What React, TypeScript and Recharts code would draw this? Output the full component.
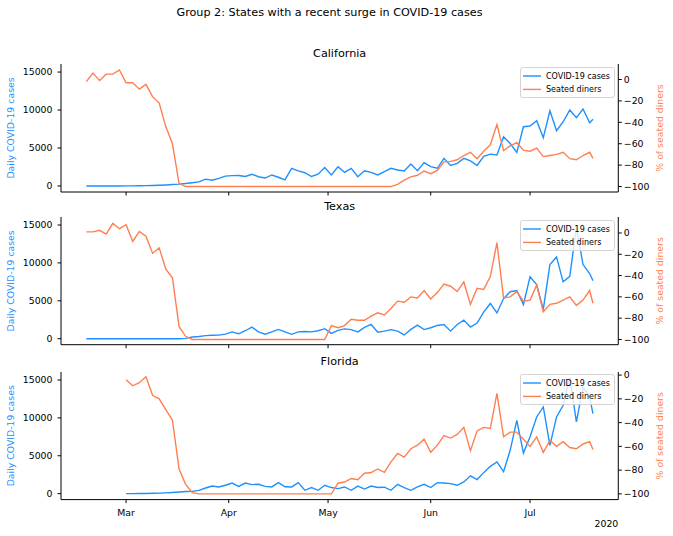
import { LineChart, Line, XAxis, YAxis } from 'recharts';

// day offsets from Mar 1, 2020 (sampled every other day, last point Jul 20)
const days = [
  -12, -10, -8, -6, -4, -2, 0, 2, 4, 6,
  8, 10, 12, 14, 16, 18, 20, 22, 24, 26,
  28, 30, 32, 34, 36, 38, 40, 42, 44, 46,
  48, 50, 52, 54, 56, 58, 60, 62, 64, 66,
  68, 70, 72, 74, 76, 78, 80, 82, 84, 86,
  88, 90, 92, 94, 96, 98, 100, 102, 104, 106,
  108, 110, 112, 114, 116, 118, 120, 122, 124, 126,
  128, 130, 132, 134, 136, 138, 140, 141,
];

const caCases = [
  0, 0, 0, 0, 0, 0, 10, 20, 30, 50,
  70, 100, 140, 190, 240, 330, 430, 540, 900, 760,
  1000, 1300, 1360, 1380, 1250, 1540, 1220, 1050, 1450, 1150,
  800, 2330, 2000, 1750, 1250, 1550, 2420, 1450, 2540, 1800,
  2330, 1220, 2000, 1800, 1450, 1900, 2330, 2100, 1970, 2900,
  2000, 3070, 2540, 2330, 3640, 2700, 2980, 3640, 3300, 2700,
  3900, 4200, 4080, 6490, 5600, 4430, 7800, 7900, 8600, 6360,
  9910, 7280, 8460, 10000, 9000, 10130, 8330, 8780,
];
const caDiners = [
  -2, 6, -1, 5, 5, 9, -3, -3, -9, -4.5,
  -16, -22, -44, -60, -97, -100, -100, -100, -100, -100,
  -100, -100, -100, -100, -100, -100, -100, -100, -100, -100,
  -100, -100, -100, -100, -100, -100, -100, -100, -100, -100,
  -100, -100, -100, -100, -100, -100, -100, -98, -94, -91,
  -89.5, -85.5, -88, -85, -77, -76.5, -75, -71, -68, -74,
  -67, -61, -42, -66.5, -62, -59, -66, -67, -64, -72,
  -71, -70, -68, -74, -75, -71, -68, -73.7,
];

const txCases = [
  0, 0, 0, 0, 0, 0, 0, 0, 0, 0,
  0, 0, 0, 0, 0, 50, 230, 300, 400, 450,
  470, 600, 900, 650, 1050, 1530, 900, 600, 900, 1230,
  900, 580, 900, 950, 900, 1050, 1320, 700, 1100, 1300,
  1200, 900, 1490, 1880, 850, 1000, 1200, 1000, 500, 1230,
  1800, 1200, 1450, 1750, 1880, 1000, 1880, 2450, 1540, 2060,
  3500, 4650, 3400, 5300, 6200, 6360, 4500, 8160, 7150, 3860,
  9780, 10790, 7500, 8230, 14700, 9780, 8600, 7670,
];
const txDiners = [
  1, 1, 2.5, -1, 9, 4, 7.8, -8, 1.5, -3,
  -19, -14, -34, -42, -88, -97, -100, -100, -100, -100,
  -100, -100, -100, -100, -100, -100, -100, -100, -100, -100,
  -100, -100, -100, -100, -100, -100, -100, -87, -89, -87,
  -81, -82, -82, -78, -75, -77, -71, -64, -65, -60,
  -61, -54, -62, -56, -48, -50, -55, -46, -67, -52,
  -53, -41, -9, -61, -60, -55, -64, -63, -49, -74,
  -67, -66, -63, -60, -68, -63, -54, -66,
];

const flCases = [
  null, null, null, null, null, null, 0, 0, 10, 20,
  40, 60, 100, 150, 210, 280, 300, 420, 740, 1000,
  880, 1100, 1400, 960, 1400, 1190, 1230, 960, 880, 1450,
  900, 880, 1450, 440, 800, 440, 1100, 800, 660, 880,
  440, 1000, 600, 1000, 800, 850, 440, 1230, 800, 440,
  900, 1230, 800, 1450, 1400, 1320, 1100, 1540, 2350, 1850,
  2770, 3600, 4180, 2900, 5720, 9680, 5360, 7500, 10120, 11440,
  6380, 10120, 11660, 15300, 9460, 14070, 12750, 10560,
];
const flDiners = [
  null, null, null, null, null, null, -4, -9, -6.4, -1.4,
  -17, -20, -29, -38, -79, -92, -99, -100, -100, -100,
  -100, -100, -100, -100, -100, -100, -100, -100, -100, -100,
  -100, -100, -100, -100, -100, -100, -100, -100, -91, -90,
  -87, -88, -82.6, -82, -79, -81.8, -73, -66, -69, -62,
  -59, -54, -65, -59, -51, -53, -50, -44, -63.6, -47,
  -44, -45, -15.4, -52, -48, -48, -54, -60, -52, -65,
  -55, -60, -56, -61, -62, -58, -56, -62.7,
];

const monthTicks = [0, 31, 61, 92, 122];
const monthLabels = ['Mar', 'Apr', 'May', 'Jun', 'Jul'];
const casesTicks = [0, 5000, 10000, 15000];
const dinersTicks = [0, -20, -40, -60, -80, -100];

const FONT = '"DejaVu Sans", sans-serif';
const BLUE = '#1e90ff';
const CORAL = '#ff7f50';
const LEFT = 61;
const RIGHT = 618.3;
const PAD = 30;

const panels = [
  { title: 'California', top: 64, height: 128, cases: caCases, diners: caDiners, dinersDomain: [-105.1, 14.5], last: false },
  { title: 'Texas', top: 217.3, height: 127.7, cases: txCases, diners: txDiners, dinersDomain: [-104.9, 15], last: false },
  { title: 'Florida', top: 371.7, height: 127.6, cases: flCases, diners: flDiners, dinersDomain: [-104.8, 2.6], last: true },
];

const legendItems = [
  { label: 'COVID-19 cases', color: BLUE },
  { label: 'Seated diners', color: CORAL },
];

const fmtPct = (v: number) => (v < 0 ? `\u2212${Math.abs(v)}` : `${v}`);

const sideLabel = (text: string, color: string, cx: number, cy: number) => () => (
  <text
    x={cx}
    y={cy}
    transform={`rotate(-90 ${cx} ${cy})`}
    textAnchor="middle"
    dominantBaseline="central"
    fill={color}
    fontSize={9.35}
    fontFamily={FONT}
  >
    {text}
  </text>
);

const LegendBox = ({ top }: { top: number }) => (
  <svg
    width={95}
    height={31}
    style={{ position: 'absolute', left: 520, top: Math.round(top + 2.5) }}
  >
    <rect x={0.5} y={0.5} width={94} height={30} rx={2.5} fill="#fff" fillOpacity={0.8} stroke="#d4d4d4" />
    {legendItems.map((item, i) => (
      <g key={item.label}>
        <line x1={3} x2={21} y1={9 + i * 13.4} y2={9 + i * 13.4} stroke={item.color} strokeWidth={1.4} />
        <text x={26} y={9 + i * 13.4} dominantBaseline="central" fontSize={8} fontFamily={FONT} fill="#000">
          {item.label}
        </text>
      </g>
    ))}
  </svg>
);

const Panel = ({ p }: { p: (typeof panels)[number] }) => {
  const rows = days.map((d, i) => ({ day: d, cases: p.cases[i], diners: p.diners[i] }));
  const mid = PAD + p.height / 2;
  const tickStyle = { fontSize: 9.35, fill: '#000', fontFamily: FONT };
  return (
    <>
      <div
        style={{
          position: 'absolute',
          left: LEFT,
          width: RIGHT - LEFT,
          top: p.top - 17.1,
          textAlign: 'center',
          fontFamily: FONT,
          fontSize: 11.2,
          lineHeight: '14px',
        }}
      >
        {p.title}
      </div>
      <div style={{ position: 'absolute', left: 0, top: p.top - PAD }}>
        <LineChart width={673} height={p.height + PAD * 2} data={rows} margin={{ top: PAD, right: 0, bottom: 0, left: 0 }}>
          <XAxis
            xAxisId="b"
            dataKey="day"
            type="number"
            domain={[-19.65, 148.65]}
            allowDataOverflow
            ticks={monthTicks}
            interval={0}
            tickFormatter={(v: number) => (p.last ? monthLabels[monthTicks.indexOf(v)] : '')}
            tickSize={3.5}
            tickMargin={6}
            height={PAD}
            axisLine={{ stroke: '#000' }}
            tickLine={{ stroke: '#000' }}
            tick={tickStyle}
          />
          <XAxis
            xAxisId="t"
            orientation="top"
            dataKey="day"
            type="number"
            domain={[-19.65, 148.65]}
            allowDataOverflow
            tick={false}
            tickLine={false}
            height={0}
            axisLine={{ stroke: '#000' }}
          />
          <YAxis
            yAxisId="l"
            orientation="left"
            width={LEFT}
            type="number"
            domain={[-790, 16060]}
            allowDataOverflow
            ticks={casesTicks}
            interval={0}
            tickSize={3.5}
            tickMargin={5}
            axisLine={{ stroke: '#000' }}
            tickLine={{ stroke: '#000' }}
            tick={tickStyle}
            label={sideLabel('Daily COVID-19 cases', BLUE, 10.8, mid)}
          />
          <YAxis
            yAxisId="r"
            orientation="right"
            width={673 - RIGHT}
            type="number"
            domain={p.dinersDomain}
            allowDataOverflow
            ticks={dinersTicks}
            interval={0}
            tickSize={3.5}
            tickMargin={2}
            tickFormatter={fmtPct}
            axisLine={{ stroke: '#000' }}
            tickLine={{ stroke: '#000' }}
            tick={tickStyle}
            label={sideLabel('% of seated diners', CORAL, 659.7, mid)}
          />
          <Line
            xAxisId="b"
            yAxisId="l"
            dataKey="cases"
            stroke={BLUE}
            strokeWidth={1.4}
            dot={false}
            activeDot={false}
            isAnimationActive={false}
          />
          <Line
            xAxisId="b"
            yAxisId="r"
            dataKey="diners"
            stroke={CORAL}
            strokeWidth={1.4}
            dot={false}
            activeDot={false}
            isAnimationActive={false}
          />
        </LineChart>
      </div>
      <LegendBox top={p.top} />
    </>
  );
};

export default function App() {
  return (
    <div style={{ position: 'absolute', left: 0, top: 0, width: 673, height: 536, background: '#fff', fontFamily: FONT }}>
      <div
        style={{
          position: 'absolute',
          left: 0,
          width: 659,
          top: 6.2,
          textAlign: 'center',
          fontSize: 11.2,
          lineHeight: '14px',
        }}
      >
        Group 2: States with a recent surge in COVID-19 cases
      </div>
      {panels.map((p) => (
        <Panel key={p.title} p={p} />
      ))}
      <div
        style={{
          position: 'absolute',
          left: RIGHT - 60,
          width: 60,
          top: 518,
          textAlign: 'right',
          fontSize: 9.35,
          lineHeight: '12px',
        }}
      >
        2020
      </div>
    </div>
  );
}
